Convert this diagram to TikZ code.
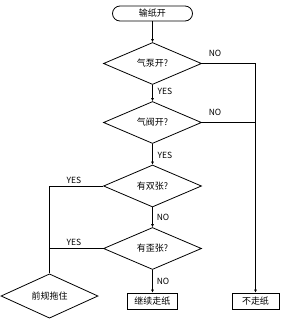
\documentclass[tikz,border=0pt]{standalone}
\usepackage{fontspec}
\newfontfamily\cjk{Noto Sans CJK SC}
\usetikzlibrary{shapes.geometric,arrows.meta}

\begin{document}
\begin{tikzpicture}[x=1pt,y=-1pt,line width=0.8pt,
    every node/.style={font=\cjk\fontsize{9}{10}\selectfont},
    decision/.style={draw,diamond,inner sep=0pt,minimum width=98pt,minimum height=42pt},
    process/.style={draw,rectangle,inner sep=0pt,minimum width=50pt,minimum height=16pt},
    startstop/.style={draw,rectangle,rounded corners=7.5pt,inner sep=0pt,minimum width=80pt,minimum height=15pt},
    flow/.style={-{Latex[length=3pt,width=3pt]}},
    lbl/.style={font=\cjk\fontsize{8.5}{10}\selectfont,inner sep=0pt}]
    \useasboundingbox (0,0) rectangle (284,333);
    \pgfmathsetmacro{\mx}{152.5}	%main column
	\pgfmathsetmacro{\rx}{255.5}
	\pgfmathsetmacro{\lx}{49.5}

    \node[startstop] (start) at (\mx,13.5) {输纸开};
    \node[decision] (pump) at (\mx,63.5) {气泵开?};
    \node[decision] (valve) at (\mx,122.5) {气阀开?};
    \node[decision] (dbl) at (\mx,186) {有双张?};
    \node[decision] (skew) at (\mx,248.5) {有歪张?};
    \node[process] (go) at (\mx,301) {继续走纸};
    \node[process,minimum width=47pt] (stop) at (\rx,301) {不走纸};
    \node[decision,minimum width=97pt,minimum height=38pt] (hold) at (\lx,296) {前规拖住};

    \coordinate (R2) at (valve.east -| stop.north);
    \coordinate (L2) at (skew.west -| hold.north);

	\draw[flow] (start) -- (pump);
	\draw[flow] (pump) -- (valve);
	\draw[flow] (valve) -- (dbl);
	\draw[flow] (dbl) -- (skew);
	\draw[flow] (skew) -- (go);
	\draw[flow] (pump.east) -| (stop.north);
	\draw (valve.east) -- (R2);
	\draw (dbl.west) -| (hold.north);
	\draw (skew.west) -- (L2);

    \node[lbl] (no1) at (215,53) {NO};
    \node[lbl] (no2) at (215,112) {NO};
    \node[lbl] (yes1) at (165,91) {YES};
    \node[lbl] (yes2) at (165,155) {YES};
    \node[lbl] (yes3) at (74,180) {YES};
    \node[lbl] (yes4) at (74,242) {YES};
    \node[lbl] (no3) at (163,217) {NO};
    \node[lbl] (no4) at (163,281) {NO};
\end{tikzpicture}
\end{document}
